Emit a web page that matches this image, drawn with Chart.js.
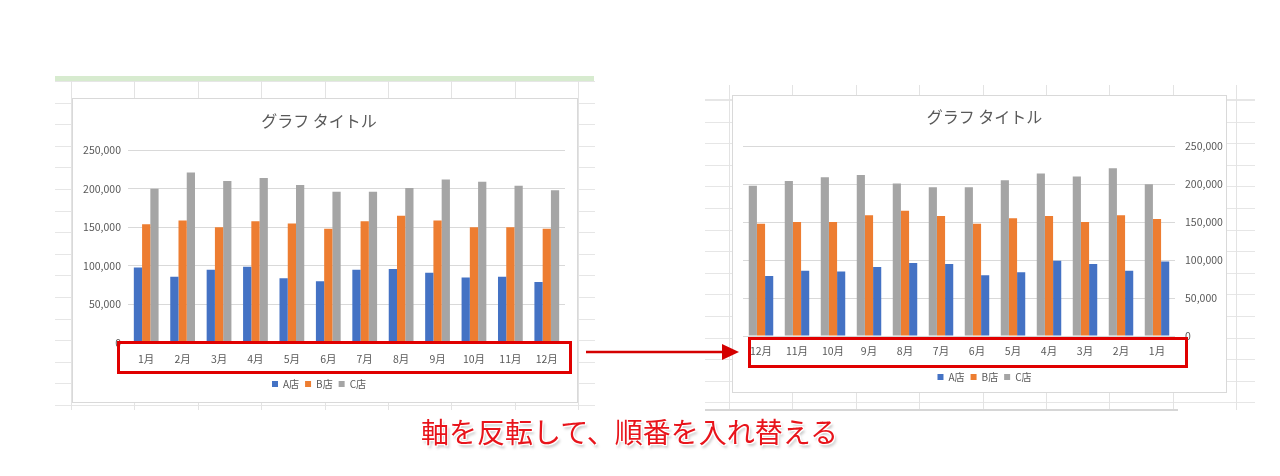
<!DOCTYPE html>
<html>
<head>
<meta charset="utf-8">
<script src="https://cdn.jsdelivr.net/npm/chart.js@4/dist/chart.umd.min.js"></script>
<style>
  html, body { margin: 0; padding: 0; background: #fff; }
  body { width: 1280px; height: 476px; position: relative; overflow: hidden; font-family: "Noto Sans CJK JP", sans-serif; }
  .sheet {
    position: absolute;
    background-color: #fff;
    background-image:
      repeating-linear-gradient(to right, #e3e3e3 0, #e3e3e3 1px, transparent 1px, transparent 63.4px),
      repeating-linear-gradient(to bottom, #e6e6e6 0, #e6e6e6 1px, transparent 1px, transparent 21.6px);
  }
  .box { position: absolute; background: #fff; border: 1px solid #d9d9d9; box-sizing: border-box; }
  .box canvas { position: absolute; left: 0; top: 0; }
  .mark { position: absolute; border: 3px solid #e00000; box-sizing: border-box; }
  .note {
    position: absolute; left: 421px; top: 411px; font-size: 28px; color: #e8141b; white-space: nowrap;
    text-shadow: 0 0 2px #fff, 1px 1px 0 #fff, -1px -1px 0 #fff, 1px -1px 0 #fff, -1px 1px 0 #fff, 2px 3px 3px rgba(0,0,0,0.25);
  }
</style>
</head>
<body>
<div class="sheet" style="left:55px;top:80px;width:540px;height:330px;background-position:16px 1px;"></div>
<div style="position:absolute;left:55px;top:76px;width:539px;height:5px;background:#d7ebcf;"></div>
<div class="sheet" style="left:705px;top:85px;width:550px;height:325px;background-position:24px 15px;"></div>
<div style="position:absolute;left:705px;top:409px;width:473px;height:2px;background:#d6d6d6;"></div>

<div class="box" style="left:72px;top:98px;width:506px;height:305px;"><canvas id="chartLeft"></canvas></div>
<div class="box" style="left:732px;top:95px;width:495px;height:298px;"><canvas id="chartRight"></canvas></div>

<div class="mark" style="left:117px;top:341px;width:455px;height:33px;"></div>
<div class="mark" style="left:748px;top:337px;width:440px;height:31px;"></div>
<svg style="position:absolute;left:0;top:0;" width="1280" height="476">
  <line x1="586" y1="352" x2="726" y2="352" stroke="#d40000" stroke-width="2.5"/>
  <polygon points="722,344 739,352 722,360" fill="#d40000"/>
</svg>
<div class="note">軸を反転して、順番を入れ替える</div>

<script>
// データ
const months = ['1月', '2月', '3月', '4月', '5月', '6月', '7月', '8月', '9月', '10月', '11月', '12月'];
const storeA = [98000, 86000, 95000, 99000, 84000, 80000, 95000, 96000, 91000, 85000, 86000, 79000];
const storeB = [154000, 159000, 150000, 158000, 155000, 148000, 158000, 165000, 159000, 150000, 150000, 148000];
const storeC = [200000, 221000, 210000, 214000, 205000, 196000, 196000, 201000, 212000, 209000, 204000, 198000];
const storeNames = ['A店', 'B店', 'C店'];
const storeColors = ['#4472C4', '#ED7D31', '#A5A5A5'];
const yMax = 250000;
const yStep = 50000;

const textColor = '#595959';
const fontFamily = '"Noto Sans CJK JP", sans-serif';

function makeDataset(i, values) {
    return {
        label: storeNames[i],
        data: values,
        backgroundColor: storeColors[i],
        borderWidth: 0,
        barPercentage: 1.0,
        categoryPercentage: 0.68
    };
}

function baseOptions(cfg) {
    return {
        responsive: false,
        animation: false,
        devicePixelRatio: 1,
        layout: { padding: cfg.padding },
        plugins: {
            title: {
                display: true,
                text: 'グラフ タイトル',
                color: textColor,
                font: { family: fontFamily, size: 16, weight: 'normal' },
                padding: { top: cfg.titleTop, bottom: cfg.titleBottom }
            },
            legend: {
                position: 'bottom',
                reverse: cfg.legendReverse,
                labels: {
                    color: textColor,
                    font: { family: fontFamily, size: 10 },
                    boxWidth: 6,
                    boxHeight: 6,
                    padding: 6
                }
            },
            tooltip: { enabled: false }
        },
        scales: {
            x: {
                grid: { display: false },
                border: { display: false },
                ticks: {
                    color: textColor,
                    font: { family: fontFamily, size: 10.5 },
                    padding: cfg.xPad,
                    maxRotation: 0
                },
                afterFit: s => { s.height = cfg.xHeight; }
            },
            y: {
                position: cfg.yPos,
                min: 0,
                max: yMax,
                grid: { color: '#d9d9d9', drawTicks: false },
                border: { display: false },
                ticks: {
                    stepSize: yStep,
                    color: textColor,
                    font: { family: fontFamily, size: 10.5 },
                    padding: cfg.yPad,
                    callback: v => v.toLocaleString('en-US')
                },
                afterFit: s => { s.width = cfg.yWidth; }
            }
        }
    };
}

// 元のグラフ
const leftCanvas = document.getElementById('chartLeft');
leftCanvas.width = 504; leftCanvas.height = 303;
new Chart(leftCanvas, {
    type: 'bar',
    data: {
        labels: months,
        datasets: [makeDataset(0, storeA), makeDataset(1, storeB), makeDataset(2, storeC)]
    },
    options: baseOptions({
        padding: { left: 0, right: 12, top: 0, bottom: 3 },
        titleTop: 12, titleBottom: 20,
        xHeight: 30, xPad: 2, yWidth: 55, yPad: 7, yPos: 'left',
        legendReverse: false
    })
});

// 軸を反転したグラフ
const revMonths = months.slice().reverse();
const revA = storeA.slice().reverse();
const revB = storeB.slice().reverse();
const revC = storeC.slice().reverse();
const rightCanvas = document.getElementById('chartRight');
rightCanvas.width = 493; rightCanvas.height = 296;
new Chart(rightCanvas, {
    type: 'bar',
    data: {
        labels: revMonths,
        datasets: [makeDataset(2, revC), makeDataset(1, revB), makeDataset(0, revA)]
    },
    options: baseOptions({
        padding: { left: 10, right: 0, top: 0, bottom: 0 },
        titleTop: 11, titleBottom: 20,
        xHeight: 30, xPad: 1, yWidth: 51, yPad: 10, yPos: 'right',
        legendReverse: true
    })
});
</script>
</body>
</html>
